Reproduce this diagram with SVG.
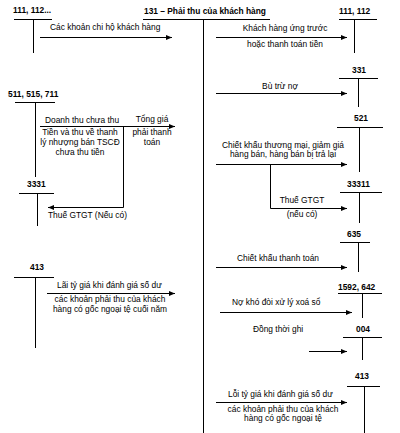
<svg xmlns="http://www.w3.org/2000/svg" width="400" height="433" viewBox="0 0 400 433">
<defs>
<marker id="ah" viewBox="0 0 6 6" refX="6" refY="3" markerWidth="6" markerHeight="6" markerUnits="userSpaceOnUse" orient="auto">
<path d="M0,0.5 L6,3 L0,5.5 Z" fill="#000"/>
</marker>
<style>
.t{font-family:"Liberation Sans",Arial,sans-serif;font-size:8.4px;fill:#000}
.b{font-family:"Liberation Sans",Arial,sans-serif;font-size:8.4px;font-weight:bold;fill:#000}
.l{stroke:#000;stroke-width:1;fill:none}
.a{stroke:#000;stroke-width:1;fill:none;marker-end:url(#ah)}
.m{text-anchor:middle}
</style>
</defs>
<rect width="400" height="433" fill="#fff"/>
<g id="acc131">
<text class="b" x="144" y="14">131 – Phải thu của khách hàng</text>
<path class="l" d="M143,19.5H270M203.5,19V433"/>
</g>
<g id="acc111a">
<text class="b" x="13" y="13">111, 112...</text>
<path class="l" d="M14,19.5H52M33.5,19V53"/>
</g>
<g id="acc111b">
<text class="b" x="339" y="14">111, 112</text>
<path class="l" d="M339,19.5H377M354.5,19V53"/>
</g>
<g id="acc331">
<text class="b" x="352" y="73">331</text>
<path class="l" d="M339,78.5H378M358.5,78V107"/>
</g>
<g id="acc511">
<text class="b" x="8" y="97">511, 515, 711</text>
<path class="l" d="M15,102.5H55M35.5,102V177"/>
</g>
<g id="acc521">
<text class="b" x="354" y="121">521</text>
<path class="l" d="M337,127.5H383M359.5,127V172"/>
</g>
<g id="acc3331">
<text class="b" x="27" y="187">3331</text>
<path class="l" d="M19,193.5H54M37.5,193V226"/>
</g>
<g id="acc33311">
<text class="b" x="347" y="187">33311</text>
<path class="l" d="M340,192.5H382M359.5,192V223"/>
</g>
<g id="acc635">
<text class="b" x="347" y="237">635</text>
<path class="l" d="M340,242.5H370M358.5,242V272"/>
</g>
<g id="acc413a">
<text class="b" x="30" y="270">413</text>
<path class="l" d="M14,277.5H54M35.5,277V348"/>
</g>
<g id="acc1592">
<text class="b" x="338" y="290">1592, 642</text>
<path class="l" d="M338,293.5H382M362.5,293V318"/>
</g>
<g id="acc004">
<text class="b" x="356" y="332">004</text>
<path class="l" d="M343,337.5H382M362.5,337V360"/>
</g>
<g id="acc413b">
<text class="b" x="355" y="379">413</text>
<path class="l" d="M347,386.5H380M364.5,386V433"/>
</g>
<g id="connectors">
<path class="a" d="M40,37.5H172"/>
<text class="t" x="50" y="30">Các khoản chi hộ khách hàng</text>
<path class="a" d="M216,37.5H347"/>
<text class="t m" x="285" y="31">Khách hàng ứng trước</text>
<text class="t m" x="285" y="47">hoặc thanh toán tiền</text>
<path class="a" d="M216,93.5H347"/>
<text class="t m" x="280" y="89">Bù trừ nợ</text>
<path class="a" d="M40,126.5H175"/>
<text class="t" x="45" y="123">Doanh thu chưa thu</text>
<text class="t m" x="80" y="135">Tiền và thu về thanh</text>
<text class="t m" x="80" y="145">lý nhượng bán TSCĐ</text>
<text class="t m" x="80" y="155">chưa thu tiền</text>
<text class="t m" x="152" y="122">Tổng giá</text>
<text class="t m" x="152" y="135">phải thanh</text>
<text class="t m" x="152" y="145">toán</text>
<path class="a" d="M123.5,126V207.5H48"/>
<text class="t" x="48" y="218">Thuế GTGT (Nếu có)</text>
<path class="a" d="M216,164.5H347"/>
<text class="t m" x="283" y="148">Chiết khấu thương mại, giảm giá</text>
<text class="t m" x="283" y="157">hàng bán, hàng bán bị trả lại</text>
<path class="a" d="M270.5,164V208.5H347"/>
<text class="t m" x="302" y="203">Thuế GTGT</text>
<text class="t m" x="302" y="217">(nếu có)</text>
<path class="a" d="M216,267.5H347"/>
<text class="t" x="237" y="261">Chiết khấu thanh toán</text>
<path class="a" d="M47,293.5H175"/>
<text class="t" x="57" y="288">Lãi tỷ giá khi đánh giá số dư</text>
<text class="t m" x="110" y="302">các khoản phải thu của khách</text>
<text class="t m" x="110" y="312">hàng có gốc ngoại tệ cuối năm</text>
<path class="a" d="M220,312.5H352"/>
<text class="t" x="232" y="305">Nợ khó đòi xử lý xoá sổ</text>
<text class="t" x="253" y="332">Đồng thời ghi</text>
<path class="a" d="M309,351.5H347"/>
<path class="a" d="M216,402.5H347"/>
<text class="t" x="228" y="397">Lỗi tỷ giá khi đánh giá số dư</text>
<text class="t m" x="283" y="412">các khoản phải thu của khách</text>
<text class="t m" x="283" y="421">hàng có gốc ngoại tệ</text>
</g>
</svg>
